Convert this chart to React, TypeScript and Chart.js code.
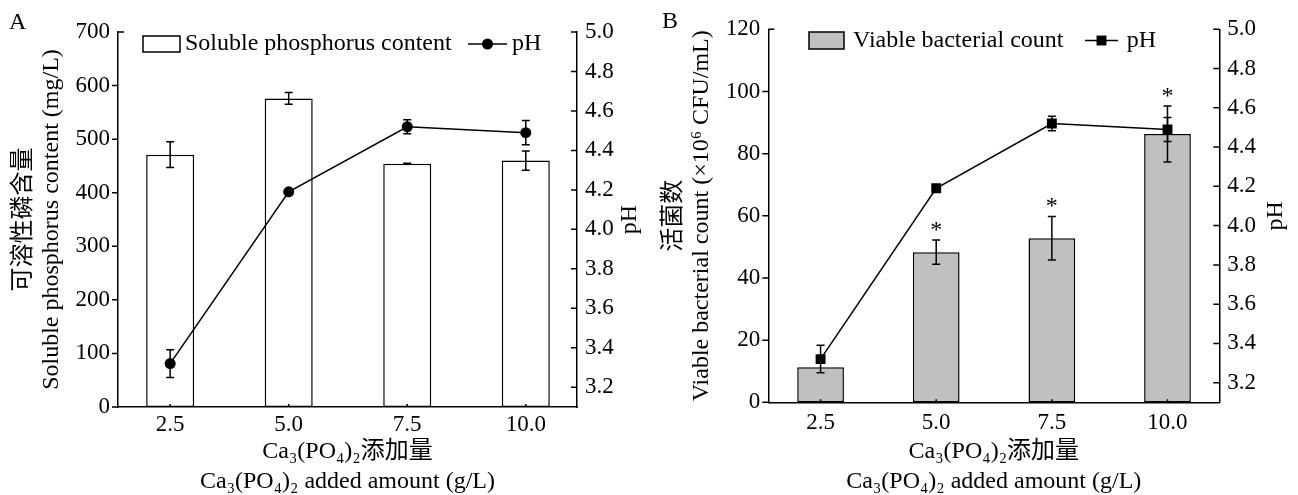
import React, { useEffect, useRef } from 'react';
import { Chart, registerables } from 'chart.js';

Chart.register(...registerables);

const FONT = "'Liberation Serif', 'Times New Roman', 'Noto Sans CJK SC', serif";
Chart.defaults.color = '#000';
Chart.defaults.font.family = FONT;

// ---- data ----
const doses = [2.5, 5.0, 7.5, 10.0];
const phosphorus = [471, 576, 454, 460];
const phosphorusErr = [24, 11, 1, 18];
const phA = [3.32, 4.19, 4.52, 4.49];
const phAErr = [0.07, 0, 0.036, 0.061];
const viable = [11.3, 48.3, 52.8, 86.3];
const viableErr = [0, 3.9, 7.0, 9.0];
const viableSig = [false, true, true, true];
const phB = [3.32, 4.19, 4.52, 4.49];
const phBErr = [0.07, 0, 0.037, 0.061];
const phosTicks = [0, 100, 200, 300, 400, 500, 600, 700];
const viableTicks = [0, 20, 40, 60, 80, 100, 120];
const phTicks = [3.2, 3.4, 3.6, 3.8, 4.0, 4.2, 4.4, 4.6, 4.8, 5.0];
const xTitle = ['Ca₃(PO₄)₂添加量', 'Ca₃(PO₄)₂ added amount (g/L)'];
const titleA = ['可溶性磷含量', 'Soluble phosphorus content (mg/L)'];
const titleB = ['活菌数', 'Viable bacterial count (×10⁶ CFU/mL)'];
const legendA = ['Soluble phosphorus content', 'pH'];
const legendB = ['Viable bacterial count', 'pH'];

interface Spec {
  letter: string;
  width: number;
  bars: number[];
  barErr: number[];
  stars: boolean[];
  barFill: string;
  ph: number[];
  phErr: number[];
  pointStyle: string;
  pointRadius: number;
  yMax: number;
  yTicks: number[];
  yTitle: string[];
  legend: string[];
  padTop: number;
  leftW: number;
  rightW: number;
  bottomH: number;
  xMin: number;
  xMax: number;
  xTickPad: number;
  barPct: number;
  letterX: number;
  letterY: number;
  legBox: number[];
  legTextGap: number;
  legLine: number[];
  legPhText: number;
  phTitleX: number;
}

const specA: Spec = {
  letter: 'A', width: 650,
  bars: phosphorus, barErr: phosphorusErr, stars: [false, false, false, false], barFill: '#ffffff',
  ph: phA, phErr: phAErr, pointStyle: 'circle', pointRadius: 5.5,
  yMax: 700, yTicks: phosTicks, yTitle: titleA, legend: legendA,
  padTop: 32, leftW: 118, rightW: 73, bottomH: 88,
  xMin: 1.4, xMax: 11.08, xTickPad: 4, barPct: 0.405,
  letterX: 9, letterY: 28.5,
  legBox: [25, 4, 37, 16], legTextGap: 5, legLine: [350, 389], legPhText: 394,
  phTitleX: 630,
};

const specB: Spec = {
  letter: 'B', width: 648,
  bars: viable, barErr: viableErr, stars: viableSig, barFill: '#c0c0c0',
  ph: phB, phErr: phBErr, pointStyle: 'rect', pointRadius: 7,
  yMax: 120, yTicks: viableTicks, yTitle: titleB, legend: legendB,
  padTop: 29.3, leftW: 118.3, rightW: 78.7, bottomH: 92.7,
  xMin: 1.37, xMax: 11.12, xTickPad: 6.5, barPct: 0.404,
  letterX: 12, letterY: 27.5,
  legBox: [40.7, 2.7, 35, 17], legTextGap: 9, legLine: [316.7, 349.7], legPhText: 358.4,
  phTitleX: 626,
};

function decor(s: Spec) {
  return {
    id: 'decor' + s.letter,
    afterDraw(chart: any) {
      const { ctx, chartArea: ca, scales } = chart;
      const xs = scales.x;
      const ys = scales.y;
      const yp = scales.y1;
      ctx.save();
      ctx.strokeStyle = '#000';
      ctx.fillStyle = '#000';
      ctx.lineWidth = 1.5;

      // tick marks
      ctx.beginPath();
      s.yTicks.forEach((v, i) => {
        const py = ys.getPixelForValue(v);
        if (i === s.yTicks.length - 1) {
          ctx.moveTo(ca.left, py);
          ctx.lineTo(ca.left + 6, py);
        } else {
          ctx.moveTo(ca.left - 6, py);
          ctx.lineTo(ca.left, py);
        }
      });
      phTicks.forEach((v) => {
        const py = yp.getPixelForValue(v);
        ctx.moveTo(ca.right - 6, py);
        ctx.lineTo(ca.right, py);
      });
      doses.forEach((v) => {
        const px = xs.getPixelForValue(v);
        ctx.moveTo(px, ca.bottom);
        ctx.lineTo(px, ca.bottom - 3);
      });
      ctx.stroke();

      // error bars
      const errBar = (px: number, v: number, e: number, sc: any) => {
        if (!e) return;
        const t = sc.getPixelForValue(v + e);
        const b = sc.getPixelForValue(v - e);
        ctx.beginPath();
        ctx.moveTo(px, t);
        ctx.lineTo(px, b);
        ctx.moveTo(px - 4, t);
        ctx.lineTo(px + 4, t);
        ctx.moveTo(px - 4, b);
        ctx.lineTo(px + 4, b);
        ctx.stroke();
      };
      doses.forEach((d, i) => {
        const px = xs.getPixelForValue(d);
        errBar(px, s.bars[i], s.barErr[i], ys);
        errBar(px, s.ph[i], s.phErr[i], yp);
      });

      // significance stars
      ctx.font = `24px ${FONT}`;
      ctx.textAlign = 'center';
      ctx.textBaseline = 'alphabetic';
      doses.forEach((d, i) => {
        if (!s.stars[i]) return;
        const px = xs.getPixelForValue(d);
        const top = ys.getPixelForValue(s.bars[i] + s.barErr[i]);
        ctx.fillText('*', px, top - 3);
      });

      // right axis title (reads bottom to top)
      ctx.save();
      ctx.translate(s.phTitleX, (ca.top + ca.bottom) / 2);
      ctx.rotate(-Math.PI / 2);
      ctx.textAlign = 'center';
      ctx.textBaseline = 'middle';
      ctx.font = `24px ${FONT}`;
      ctx.fillText('pH', 0, 0);
      ctx.restore();

      // panel letter
      ctx.font = `24px ${FONT}`;
      ctx.textAlign = 'left';
      ctx.textBaseline = 'alphabetic';
      ctx.fillText(s.letter, s.letterX, s.letterY);

      // legend
      const [bx, by, bw, bh] = s.legBox;
      const x0 = ca.left + bx;
      const y0 = ca.top + by;
      const cy = y0 + bh / 2;
      ctx.fillStyle = s.barFill;
      ctx.fillRect(x0, y0, bw, bh);
      ctx.strokeRect(x0, y0, bw, bh);
      ctx.fillStyle = '#000';
      ctx.font = `24px ${FONT}`;
      ctx.textBaseline = 'middle';
      ctx.fillText(s.legend[0], x0 + bw + s.legTextGap, cy);
      const l0 = ca.left + s.legLine[0];
      const l1 = ca.left + s.legLine[1];
      ctx.beginPath();
      ctx.moveTo(l0, cy);
      ctx.lineTo(l1, cy);
      ctx.stroke();
      const mc = (l0 + l1) / 2;
      if (s.pointStyle === 'circle') {
        ctx.beginPath();
        ctx.arc(mc, cy, s.pointRadius, 0, Math.PI * 2);
        ctx.fill();
      } else {
        const h = s.pointRadius * Math.SQRT1_2;
        ctx.fillRect(mc - h, cy - h, 2 * h, 2 * h);
      }
      ctx.fillText(s.legend[1], ca.left + s.legPhText, cy);
      ctx.restore();
    },
  };
}

function makeConfig(s: Spec): any {
  const tickFont = { family: FONT, size: 23 };
  const titleFont = { family: FONT, size: 24, lineHeight: 1.146 };
  const xTitleFont = { family: FONT, size: 24, lineHeight: 1.25 };
  return {
    type: 'bar',
    data: {
      datasets: [
        {
          type: 'line',
          label: s.legend[1],
          data: doses.map((d, i) => ({ x: d, y: s.ph[i] })),
          borderColor: '#000',
          borderWidth: 1.5,
          backgroundColor: '#000',
          pointBackgroundColor: '#000',
          pointBorderColor: '#000',
          pointBorderWidth: 0,
          pointStyle: s.pointStyle,
          pointRadius: s.pointRadius,
          tension: 0,
          yAxisID: 'y1',
          order: 1,
        },
        {
          type: 'bar',
          label: s.legend[0],
          data: doses.map((d, i) => ({ x: d, y: s.bars[i] })),
          backgroundColor: s.barFill,
          borderColor: '#000',
          borderWidth: 1.5,
          borderSkipped: false,
          barPercentage: s.barPct,
          categoryPercentage: 1,
          yAxisID: 'y',
          order: 2,
        },
      ],
    },
    options: {
      animation: false,
      responsive: false,
      maintainAspectRatio: false,
      devicePixelRatio: 1,
      layout: { padding: { top: s.padTop, left: 0, right: 0, bottom: 0 } },
      plugins: {
        legend: { display: false },
        tooltip: { enabled: false },
        title: { display: false },
      },
      scales: {
        x: {
          type: 'linear',
          position: 'bottom',
          offset: false,
          min: s.xMin,
          max: s.xMax,
          afterBuildTicks: (sc: any) => {
            sc.ticks = doses.map((v) => ({ value: v }));
          },
          afterFit: (sc: any) => {
            sc.height = s.bottomH;
          },
          grid: { display: false, drawTicks: false, offset: false },
          border: { display: true, color: '#000', width: 1.5 },
          ticks: {
            font: tickFont,
            color: '#000',
            padding: s.xTickPad,
            maxRotation: 0,
            autoSkip: false,
            callback: (v: any) => Number(v).toFixed(1),
          },
          title: {
            display: true,
            text: xTitle,
            font: xTitleFont,
            color: '#000',
            padding: { top: 0, bottom: -2 },
          },
        },
        y: {
          type: 'linear',
          position: 'left',
          min: 0,
          max: s.yMax,
          afterBuildTicks: (sc: any) => {
            sc.ticks = s.yTicks.map((v) => ({ value: v }));
          },
          afterFit: (sc: any) => {
            sc.width = s.leftW;
          },
          grid: { display: false, drawTicks: false },
          border: { display: true, color: '#000', width: 1.5 },
          ticks: { font: tickFont, color: '#000', padding: 8 },
          title: {
            display: true,
            text: s.yTitle,
            font: titleFont,
            color: '#000',
            padding: { top: 10.25, bottom: 0 },
          },
        },
        y1: {
          type: 'linear',
          position: 'right',
          min: 3.1,
          max: 5.0,
          afterBuildTicks: (sc: any) => {
            sc.ticks = phTicks.map((v) => ({ value: v }));
          },
          afterFit: (sc: any) => {
            sc.width = s.rightW;
          },
          grid: { display: false, drawTicks: false },
          border: { display: true, color: '#000', width: 1.5 },
          ticks: {
            font: tickFont,
            color: '#000',
            padding: 8,
            callback: (v: any) => Number(v).toFixed(1),
          },
        },
      },
    },
    plugins: [decor(s)],
  };
}

function Panel({ spec, left }: { spec: Spec; left: number }) {
  const ref = useRef<HTMLCanvasElement>(null);
  useEffect(() => {
    const chart = new Chart(ref.current as HTMLCanvasElement, makeConfig(spec));
    return () => chart.destroy();
  }, [spec]);
  return (
    <canvas
      ref={ref}
      width={spec.width}
      height={495}
      style={{ position: 'absolute', left, top: 0, width: spec.width, height: 495 }}
    />
  );
}

export default function App() {
  return (
    <div
      style={{
        position: 'absolute',
        left: 0,
        top: 0,
        width: 1298,
        height: 495,
        background: '#ffffff',
        overflow: 'hidden',
      }}
    >
      <Panel spec={specA} left={0} />
      <Panel spec={specB} left={650} />
    </div>
  );
}
